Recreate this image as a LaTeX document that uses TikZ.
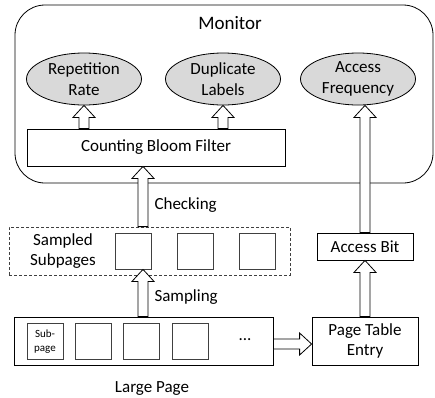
\documentclass[tikz,border=0pt]{standalone}
\usepackage{fontspec}
\setmainfont{Carlito}
\usepackage{tikz}
\usetikzlibrary{shapes.geometric, calc}
\definecolor{Ink}{HTML}{000000}
\definecolor{SoftGray}{HTML}{D9D9D9}
\definecolor{Frame}{HTML}{404040}

\begin{document}
\begin{tikzpicture}[
  x=1pt, y=-1pt,
  font=\fontsize{17}{20.5}\selectfont,
  box/.style={draw=Ink, line width=0.8pt, fill=white, inner sep=0pt, align=center},
  metric/.style={ellipse, draw=Ink, line width=0.8pt, fill=SoftGray, align=center, inner sep=0pt, minimum width=115, minimum height=52},
  cell/.style={draw=Frame, line width=0.8pt, fill=white, minimum width=36, minimum height=36, inner sep=0pt},
  fatarrow/.style={draw=Ink, line width=0.8pt, fill=white, to path={
    let \p1=(\tikztostart), \p2=(\tikztotarget), \n1={atan2(\y2-\y1,\x2-\x1)} in
    ($(\p1)+(\n1+90:5pt)$) -- ($(\p2)+(\n1+180:12pt)+(\n1+90:5pt)$)
    -- ($(\p2)+(\n1+180:12pt)+(\n1+90:11pt)$) -- (\p2)
    -- ($(\p2)+(\n1+180:12pt)+(\n1-90:11pt)$) -- ($(\p2)+(\n1+180:12pt)+(\n1-90:5pt)$)
    -- ($(\p1)+(\n1-90:5pt)$) -- cycle}}
]
\useasboundingbox (0,0) rectangle (435,397);

\node[box, rounded corners=30pt, minimum width=418, minimum height=178] (monitor) at (224,94) {};
\node[font=\fontsize{19}{22}\selectfont] (montitle) at (230,23) {Monitor};

\node[metric] (rep) at (84,79) {Repetition\\Rate};
\node[metric] (dup) at (223,79) {Duplicate\\Labels};
\node[metric] (acc) at (358,79) {Access\\Frequency};
\node[box, minimum width=258, minimum height=37] (cbf) at (156,147.5) {Counting Bloom Filter};

\node[draw=Frame, line width=0.8pt, dash pattern=on 3pt off 2pt, minimum width=281, minimum height=48] (sampled) at (149.5,251) {};
\node[align=center] (sampledlbl) at (63,251) {Sampled\\Subpages};
\node[cell] (s1) at (133.5,251) {};
\node[cell] (s2) at (195,251) {};
\node[cell] (s3) at (257.5,251) {};

\node[box, minimum width=259, minimum height=48] (large) at (143.5,341) {};
\node[cell, align=center, font=\fontsize{11}{14}\selectfont] (sub1) at (45,341.5) {Sub-\\page};
\node[cell] (sub2) at (93,341.5) {};
\node[cell] (sub3) at (141,341.5) {};
\node[cell] (sub4) at (190,341.5) {};
\node (dots) at (245,340) {...};
\node (largelbl) at (152,388) {Large Page};

\node[box, minimum width=96, minimum height=27] (accbit) at (365,246.5) {Access Bit};
\node[box, minimum width=106, minimum height=48] (pte) at (365,341) {Page Table\\Entry};

\coordinate (col) at (143,0);
\node[anchor=west] (checking) at (151,205) {Checking};
\node[anchor=west] (sampling) at (151,297) {Sampling};

\draw[fatarrow] (cbf.north -| rep.south) to (rep.south);
\draw[fatarrow] (cbf.north -| dup.south) to (dup.south);
\draw[fatarrow] (sampled.north -| col) to (cbf.south -| col);
\draw[fatarrow] (large.north -| col) to (s1.south -| col);
\draw[fatarrow] (accbit.north) to (acc.south -| accbit.north);
\draw[fatarrow] (pte.north) to (accbit.south);
\draw[fatarrow] ([yshift=-3pt]large.east) to ([yshift=-3pt]large.east -| pte.west);
\end{tikzpicture}
\end{document}
